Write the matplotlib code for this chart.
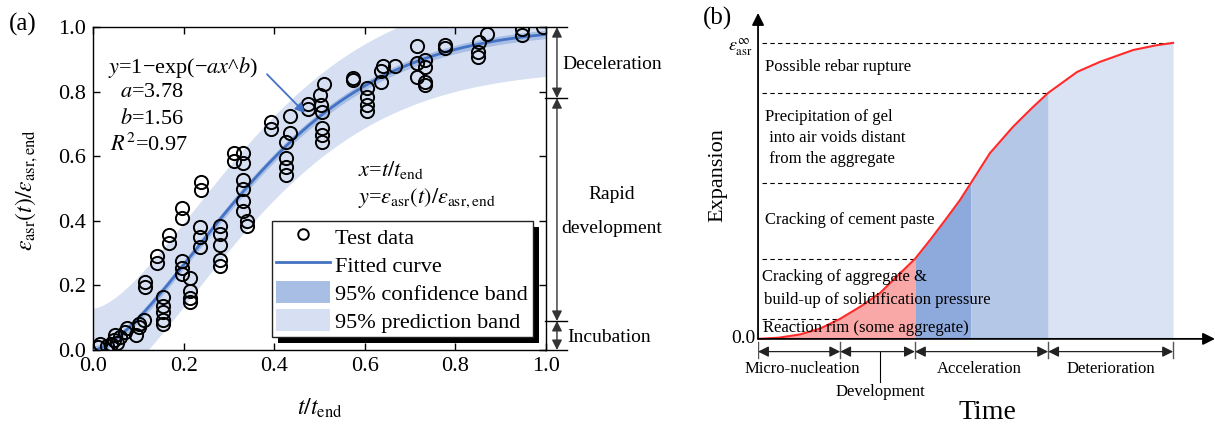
import numpy as np
import matplotlib
matplotlib.use("Agg")
import matplotlib.pyplot as plt
import matplotlib.patches as patches
from matplotlib.transforms import IdentityTransform

plt.rcParams['font.family'] = 'Liberation Serif'
plt.rcParams['mathtext.fontset'] = 'stix'

# ---- panel (a): normalised ASR expansion test data ----
x_test = [0.010, 0.015, 0.030, 0.040, 0.045, 0.048, 0.052, 0.060, 0.070, 0.074,
          0.095, 0.100, 0.102, 0.112,
          0.114, 0.114, 0.140, 0.140,
          0.154, 0.154, 0.154, 0.154, 0.154, 0.168, 0.168,
          0.197, 0.197, 0.197, 0.197, 0.197,
          0.213, 0.213, 0.213, 0.213,
          0.236, 0.236, 0.236, 0.238, 0.238,
          0.279, 0.279, 0.279, 0.279, 0.279,
          0.310, 0.310,
          0.332, 0.332, 0.332, 0.332, 0.332, 0.332, 0.340, 0.340,
          0.393, 0.393, 0.425, 0.425, 0.425, 0.425, 0.435, 0.434,
          0.475, 0.475, 0.501, 0.503, 0.505, 0.505, 0.505, 0.505, 0.510,
          0.574, 0.574, 0.604, 0.604, 0.604, 0.604,
          0.636, 0.636, 0.640, 0.667,
          0.716, 0.716, 0.716, 0.733, 0.733, 0.733, 0.733,
          0.777, 0.777, 0.850, 0.850, 0.852, 0.870,
          0.948, 0.948, 0.995]
y_test = [0.010, 0.018, 0.012, 0.020, 0.032, 0.045, 0.022, 0.040, 0.055, 0.068,
          0.048, 0.070, 0.082, 0.092,
          0.195, 0.210, 0.270, 0.290,
          0.080, 0.092, 0.118, 0.135, 0.165, 0.330, 0.355,
          0.410, 0.440, 0.235, 0.255, 0.275,
          0.150, 0.162, 0.182, 0.222,
          0.320, 0.350, 0.380, 0.495, 0.520,
          0.260, 0.280, 0.325, 0.360, 0.385,
          0.585, 0.610,
          0.610, 0.580, 0.525, 0.500, 0.460, 0.430, 0.400, 0.385,
          0.685, 0.705, 0.542, 0.567, 0.595, 0.645, 0.672, 0.725,
          0.745, 0.762, 0.790, 0.758, 0.737, 0.687, 0.665, 0.644, 0.825,
          0.835, 0.842, 0.740, 0.760, 0.785, 0.810,
          0.830, 0.865, 0.880, 0.880,
          0.940, 0.890, 0.845, 0.898, 0.876, 0.830, 0.820,
          0.935, 0.945, 0.907, 0.923, 0.953, 0.980,
          0.975, 0.995, 1.000]

fit_a = 3.78
fit_b = 1.56
conf_half = 0.013
pred_half = 0.13

stage_bounds = [0.0, 0.09, 0.78, 1.0]
stage_names = ['Incubation', 'Rapid\ndevelopment', 'Deceleration']

# ---- panel (b): schematic expansion curve ----
curve_t = [0, 0.05, 0.101, 0.15, 0.198, 0.25, 0.294, 0.33, 0.378, 0.415, 0.455,
           0.487, 0.513, 0.559, 0.614, 0.66, 0.699, 0.769, 0.824, 0.904, 0.96, 1.0]
curve_y = [0, 0.004, 0.015, 0.035, 0.068, 0.112, 0.155, 0.205, 0.27, 0.335, 0.409,
           0.47, 0.527, 0.628, 0.716, 0.78, 0.831, 0.902, 0.936, 0.976, 0.992, 1.0]
level_t = [0.198, 0.378, 0.513, 0.699, 1.0]
level_y = [0.068, 0.27, 0.527, 0.831, 1.0]
phase_t = [0.0, 0.198, 0.378, 0.699, 1.0]
phase_names = ['Micro-nucleation', 'Development', 'Acceleration', 'Deterioration']
mech_text = ['Reaction rim (some aggregate)', 'Cracking of aggregate &',
             'build-up of solidification pressure', 'Cracking of cement paste',
             'Precipitation of gel', ' into air voids distant', ' from the aggregate',
             'Possible rebar rupture']
mech_y = [0.038, 0.21, 0.133, 0.403, 0.751, 0.679, 0.608, 0.919]

blue = '#4472C4'
pred_col = '#D6E0F2'
conf_col = '#A9BEE4'

fig = plt.figure(figsize=(12.15, 4.3), dpi=100)

# ================= (a) =================
ax = fig.add_axes([0.0768, 0.186, 0.3723, 0.751])
xf = np.linspace(0, 1, 300)
yf = 1 - np.exp(-fit_a * xf ** fit_b)
ax.fill_between(xf, yf - pred_half, yf + pred_half, color=pred_col, lw=0,
                label='95% prediction band', zorder=1)
ax.fill_between(xf, yf - conf_half, yf + conf_half, color=conf_col, lw=0,
                label='95% confidence band', zorder=2)
ax.plot(xf, yf, color=blue, lw=2.0, label='Fitted curve', zorder=3)
ax.plot(x_test, y_test, 'o', mfc='none', mec='k', ms=9.5, mew=1.4,
        label='Test data', zorder=4)

ax.set_xlim(0, 1)
ax.set_ylim(0, 1)
ax.set_xticks(np.arange(0, 1.01, 0.2))
ax.set_yticks(np.arange(0, 1.01, 0.2))
ax.xaxis.set_major_formatter(matplotlib.ticker.FormatStrFormatter('%.1f'))
ax.yaxis.set_major_formatter(matplotlib.ticker.FormatStrFormatter('%.1f'))
ax.tick_params(direction='in', length=5, width=1, labelsize=16, pad=5,
               top=True, right=True)
for s in ax.spines.values():
    s.set_linewidth(1.0)
ax.set_xlabel(r'$t/t_{\rm end}$', fontsize=17)
ax.xaxis.set_label_coords(0.5, -0.145)
ax.set_ylabel(r'$\varepsilon_{\rm asr}(t)/\varepsilon_{\rm asr,end}$', fontsize=17)
ax.yaxis.set_label_coords(-0.118, 0.495)

ax.text(0.032, 0.876, '$y$=1−exp(−$ax$^$b$)', fontsize=16, va='center')
ax.text(0.059, 0.796, '$a$=3.78', fontsize=16, va='center')
ax.text(0.059, 0.715, '$b$=1.56', fontsize=16, va='center')
ax.text(0.037, 0.635, '$R^2$=0.97', fontsize=16, va='center')
ax.annotate('', xy=(0.468, 0.734), xytext=(0.384, 0.854),
            arrowprops=dict(arrowstyle='-|>', color=blue, lw=1.3,
                            mutation_scale=14, shrinkA=0, shrinkB=0), zorder=6)
ax.text(0.585, 0.557, r'$x$=$t/t_{\rm end}$', fontsize=16, va='center')
ax.text(0.585, 0.471, r'$y$=$\varepsilon_{\rm asr}(t)/\varepsilon_{\rm asr,end}$',
        fontsize=16, va='center')

handles, labels = ax.get_legend_handles_labels()
order = [3, 2, 1, 0]
leg = ax.legend([handles[i] for i in order], [labels[i] for i in order],
                loc='lower right', bbox_to_anchor=(0.971, 0.040), borderaxespad=0,
                fontsize=16, handlelength=2.4, handleheight=1.15, handletextpad=0.25,
                labelspacing=0.2, borderpad=0.2, fancybox=False, framealpha=1,
                edgecolor='#222222', markerscale=0.8)
leg.get_frame().set_linewidth(1.0)
leg.set_zorder(8)

# stage brackets on the right of (a)
for yb in stage_bounds:
    ax.plot([0.998, 1.047], [yb, yb], color='k', lw=1.0, clip_on=False)
for y0, y1 in zip(stage_bounds[:-1], stage_bounds[1:]):
    ax.annotate('', xy=(1.025, y1), xytext=(1.025, y0),
                arrowprops=dict(arrowstyle='<|-|>', color='#333333', lw=1.0,
                                mutation_scale=15, shrinkA=0, shrinkB=0),
                annotation_clip=False)
ax.text(1.047, 0.040, stage_names[0], fontsize=14, va='center', ha='left')
ax.text(1.145, 0.43, stage_names[1], fontsize=14, va='center', ha='center',
        linespacing=2.3)
ax.text(1.036, 0.885, stage_names[2], fontsize=14, va='center', ha='left')

fig.text(0.007, 0.942, '(a)', fontsize=18, va='center')

# legend shadow
fig.canvas.draw()
bb = leg.get_window_extent()
shadow = patches.Rectangle((bb.x0 + 6, bb.y0 - 6), bb.width, bb.height,
                           transform=IdentityTransform(), facecolor='k',
                           edgecolor='none', zorder=7, clip_on=False)
ax.add_artist(shadow)

# ================= (b) =================
bx = fig.add_axes([0.6239, 0.0054, 0.3761, 0.9644])
bx.set_xlim(0, 1.101)
bx.set_ylim(-0.3, 1.101)
bx.axis('off')

ct = np.array(curve_t)
cy = np.array(curve_y)
shade_cols = ['#F9A7A7', '#8EA9DB', '#B4C7E7', '#DAE3F3']
shade_bounds = [0.0, 0.378, 0.513, 0.699, 1.0]
for c, t0, t1 in zip(shade_cols, shade_bounds[:-1], shade_bounds[1:]):
    m = (ct >= t0) & (ct <= t1)
    bx.fill_between(ct[m], 0, cy[m], color=c, lw=0, zorder=1)
bx.plot(ct, cy, color='#FF2A2A', lw=1.5, zorder=3)

for tl, yl in zip(level_t, level_y):
    bx.plot([0.01, tl], [yl, yl], color='k', lw=0.8, ls=(0, (4, 3)), zorder=2)

# axes arrows
bx.annotate('', xy=(1.101, 0), xytext=(0, 0),
            arrowprops=dict(arrowstyle='-|>', color='k', lw=1.3, mutation_scale=18,
                            shrinkA=0, shrinkB=0), annotation_clip=False)
bx.annotate('', xy=(0, 1.101), xytext=(0, 0),
            arrowprops=dict(arrowstyle='-|>', color='k', lw=1.3, mutation_scale=18,
                            shrinkA=0, shrinkB=0), annotation_clip=False)

# phase bar
for tp in phase_t:
    bx.plot([tp, tp], [-0.009, -0.063], color='#555555', lw=1.0)
for t0, t1 in zip(phase_t[:-1], phase_t[1:]):
    bx.annotate('', xy=(t1, -0.043), xytext=(t0, -0.043),
                arrowprops=dict(arrowstyle='<|-|>', color='#222222', lw=0.9,
                                mutation_scale=16, shrinkA=0, shrinkB=0))
bx.text(0.106, -0.103, phase_names[0], fontsize=12, ha='center', va='center')
bx.plot([0.294, 0.294], [-0.043, -0.144], color='k', lw=0.8)
bx.text(0.294, -0.181, phase_names[1], fontsize=12, ha='center', va='center')
bx.text(0.532, -0.103, phase_names[2], fontsize=12, ha='center', va='center')
bx.text(0.851, -0.103, phase_names[3], fontsize=12, ha='center', va='center')
bx.text(0.552, -0.249, 'Time', fontsize=20, ha='center', va='center')

mech_x = [0.012, 0.01, 0.014, 0.017, 0.017, 0.017, 0.017, 0.017]
for tx, ty, s in zip(mech_x, mech_y, mech_text):
    bx.text(tx, ty, s, fontsize=12, ha='left', va='center', zorder=5)

bx.text(-0.007, 0.0, '0.0', fontsize=14, ha='right', va='center')
bx.text(-0.012, 0.984, r'$\varepsilon_{\rm asr}^{\infty}$', fontsize=13,
        ha='right', va='center')
bx.text(-0.096, 0.555, 'Expansion', fontsize=16, rotation=90, ha='center',
        va='center')
fig.text(703 / 1215, 1 - 18 / 430, '(b)', fontsize=18, va='center')

fig.savefig('out.png', dpi=100)
